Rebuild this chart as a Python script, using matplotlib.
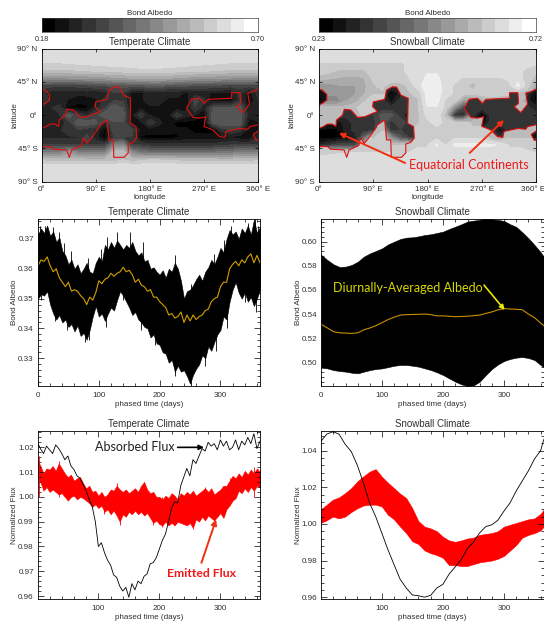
#!/usr/bin/env python3
"""Albedo maps and phase curves for a temperate and a snowball climate."""

import numpy as np
import matplotlib
matplotlib.use("Agg")
import matplotlib.pyplot as plt
from matplotlib.patches import Polygon
from matplotlib.ticker import MultipleLocator
from matplotlib.transforms import ScaledTranslation

W, H = 544, 621
plt.rcParams['font.family'] = ['Liberation Sans', 'DejaVu Sans']
TXT = '#303030'

# ---- maps: grey shade (0-16 steps of the colour bar), lat 90..-90, lon 0..360 every 15 deg
map_lon = list(range(0, 361, 15))
map_lat = list(range(90, -91, -10))

temperate_shades = [
    [13.5] * 25,
    [13.5] * 25,
    [12.5, 12.5, 12.5, 12.6, 12.7, 12.8, 12.9, 13, 13, 13.1, 13.2, 13.3, 13.4, 13.3, 13.2, 13.1, 13, 12.9, 12.8, 12.7, 12.6, 12.5, 12.5, 12.5, 12.5],
    [11.3, 11.3, 11.3, 11.4, 11.5, 11.6, 11.7, 11.8, 11.9, 12, 12.1, 12.2, 12.2, 12.2, 12.1, 12, 11.9, 11.8, 11.7, 11.6, 11.5, 11.4, 11.3, 11.3, 11.3],
    [8.5, 8.5, 8.5, 8.5, 8.6, 8.7, 8.8, 9, 9.2, 9.4, 9.6, 9.8, 9.8, 9.8, 9.6, 9.4, 9.2, 9, 8.9, 8.8, 8.6, 8.5, 8.5, 8.5, 8.5],
    [4, 4, 3.8, 3.8, 4, 4.2, 4.5, 4.5, 5, 5, 5, 5, 5.5, 5.5, 5, 5, 4.8, 4.5, 4.5, 4.5, 4.2, 4, 4, 4, 4],
    [3, 2, 2, 2, 2, 2, 1.8, 2, 3.5, 3.5, 1.2, 1.5, 1.8, 1.8, 1.8, 1.8, 1.5, 1.8, 1.8, 1.5, 1.5, 1.5, 3, 1, 3],
    [3.5, 2.5, 2, 1.5, 0.8, 1, 1.5, 3, 3.5, 3.5, 1, 1.5, 1.8, 1.8, 1.5, 1.5, 0.8, 4, 3, 0.8, 0.8, 0.8, 3, 0.5, 2.5],
    [2.5, 2.5, 3, 0.4, 0.3, 0.3, 2, 3.5, 5.5, 4.5, 1.2, 1.2, 1.5, 1.5, 1.2, 1, 1, 3.5, 2, 4.5, 5, 5, 5, 1.5, 2.5],
    [2.5, 2.5, 2.5, 5.5, 3.5, 2.5, 4, 5.5, 5.5, 5.5, 1.2, 3.5, 1.5, 1.2, 1, 3.5, 2, 1.5, 0.4, 5.5, 5.5, 5.5, 5, 2, 2],
    [2, 1.5, 2, 3, 5.5, 5.5, 5, 2.5, 4.5, 4.5, 1.2, 1.2, 3.5, 2, 0.8, 0.3, 0.3, 0.2, 0.2, 5, 5.5, 5.5, 5.5, 1, 1.5],
    [2.5, 2.5, 2.5, 3, 3.5, 3, 2.5, 0.2, 4.5, 4.5, 4, 1.2, 1, 1, 1, 0.8, 0.8, 0.3, 0.2, 0.2, 3, 3.5, 3, 1, 1.5],
    [2.5, 2.5, 2.5, 2.5, 2.5, 4, 2, 0.2, 3.5, 3.5, 3.5, 0.4, 0.3, 0.3, 0.3, 0.4, 1, 1, 1, 1, 1, 1.5, 1, 1, 2.5],
    [3.5, 3.5, 3.5, 3.5, 3.5, 3.5, 3.5, 3.5, 7.5, 8, 3.5, 3.5, 3, 3, 3, 3, 3, 3, 3, 3, 3.2, 3.5, 3.5, 3.5, 3.5],
    [7.5, 7.5, 7.5, 9, 7.5, 7.5, 7.5, 7.5, 11, 11.5, 8, 7, 6.5, 6.5, 6.5, 6.5, 6.5, 6.5, 6.5, 6.5, 7, 7, 7.5, 7.5, 7.5],
    [11.2, 11, 11, 11, 11, 10.8, 10.8, 10.8, 10.8, 11.5, 11, 11.2, 11.5, 11.5, 11.3, 11.2, 11, 11, 11, 11, 10.8, 10.8, 11, 11, 11.2],
    [13.5] * 25,
    [13.5] * 25,
    [13.5] * 25,
]

# snowball ocean/ice field, the land is filled in from its own field below
snowball_shades = [
    [13.5] * 25,
    [13.2] * 25,
    [12.5, 12.5, 12.5, 12.5, 12.5, 12.5, 12.5, 12.5, 12.5, 12.5, 12.7, 13.2, 13.5, 13.5, 13.5, 13.5, 13.5, 13.5, 13.5, 13.5, 13.5, 13.5, 13.5, 13.2, 12.8],
    [12.3, 12, 11.5, 11.3, 11.3, 11.5, 12, 12.3, 12.5, 12.5, 12.7, 13.3, 13.5, 13.5, 13.5, 13.5, 13.5, 13.5, 13.5, 13.5, 13.5, 13.5, 13, 12.2, 11.8],
    [11, 10.8, 10.5, 10.3, 10.3, 10.6, 11.8, 12.3, 12.5, 12.5, 12.6, 13.2, 13.8, 13.8, 13.2, 12.8, 12.5, 12.5, 12.5, 12.5, 12.5, 12.8, 13, 12.2, 11.2],
    [9, 9, 9.5, 9.6, 9.6, 10.3, 11.5, 11.8, 11, 11, 12, 13.3, 14.2, 14.2, 13, 12.5, 12.3, 10.8, 12.3, 12.3, 12.3, 12.3, 14, 12.2, 10],
    [9, 9, 9, 9.5, 9.5, 10.5, 11.5, 11.5, 11.5, 11.5, 11.5, 12, 14.2, 14.2, 13, 12.5, 12.3, 12.3, 12.3, 12.3, 12, 12, 11.5, 11, 10],
    [7, 8, 8, 9.5, 10, 11.5, 12, 12, 12, 11.5, 11, 11.5, 14, 14, 12.5, 12.3, 9, 9, 10, 11, 11, 11, 11, 10, 9],
    [11, 11, 11, 11, 11.5, 12, 12, 12, 12, 11.5, 11, 11.5, 13.5, 13.5, 12.3, 8, 4, 6, 9, 11, 11, 11, 11, 11, 11],
    [11, 11, 11, 11, 11, 12, 12, 12, 12, 11.5, 11, 11.5, 13, 13.5, 11, 3, 3, 9, 11, 11, 11, 11, 11, 11, 11],
    [11, 11, 11, 11, 11, 11, 11, 11, 11.5, 11.5, 11, 11.5, 12.3, 13, 12.3, 12.3, 12.3, 11, 11, 11, 11, 11, 11, 11, 11],
    [11, 11, 11, 11, 11, 11, 11, 11.5, 11.5, 11.5, 11.5, 12, 12.3, 12.3, 12.3, 12.3, 12.3, 12.3, 12.3, 12, 11.5, 11.5, 11.5, 11.5, 11.5],
    [11.5, 11.5, 11.5, 11.5, 11.5, 11.5, 11.5, 12, 12, 12, 12, 12, 12.3, 12.3, 12.3, 12.3, 12.3, 12.3, 12.3, 11, 10, 11.5, 11.5, 11.5, 11.5],
    [12, 12, 12, 12, 12, 12, 12, 12.3, 12.3, 12.3, 12.3, 12.5, 12.5, 13.8, 12.5, 13.8, 13.8, 13.8, 13.8, 13.8, 13.5, 12.5, 12.5, 12, 12],
    [12, 12, 12.3, 12.5, 12.5, 12.5, 12.5, 12.5, 12.5, 12.5, 12.6, 12.8, 12.8, 12.8, 12.8, 12.8, 12.8, 12.8, 12.8, 12.8, 12.8, 12.8, 12.8, 12.8, 12.5],
    [13.5] * 25,
    [13.5] * 25,
    [13.5] * 25,
    [13.5] * 25,
]

snowball_land = [
    [3] * 25,
    [3] * 25,
    [3] * 25,
    [3] * 25,
    [3] * 25,
    [3] * 25,
    [0.3, 2, 3, 3, 3, 3, 3, 3, 0.3, 2, 3, 3, 3, 3, 3, 3, 3, 3, 3, 3, 3, 3, 3, 3, 0.3],
    [0.3, 1.5, 3, 3, 3, 3, 3, 3, 1, 3, 3, 3, 3, 3, 3, 3, 3, 3, 3, 3, 3, 3, 3, 2, 0.3],
    [2, 3, 3, 3, 3, 3, 3, 3, 3, 3, 3, 3, 3, 3, 3, 3, 3, 3, 3, 3, 3, 3, 3, 3, 2],
    [3, 3, 3, 3, 3, 3, 3.5, 5, 5, 3, 1.5, 3, 3, 3, 3, 3, 3, 3, 0.2, 3, 3, 3, 3, 3, 3],
    [3, 2, 1, 2, 3, 3, 3, 5, 3, 4.5, 3, 3, 3, 3, 3, 3, 3, 3, 0.2, 3, 3, 3, 3, 3, 3],
    [0.5, 0.3, 0.5, 2, 3, 3, 3, 9, 3, 3.5, 2.5, 3, 3, 3, 3, 3, 3, 3, 3, 3, 1, 3, 3, 3, 3],
    [0.3, 0.3, 0.3, 0.5, 2, 6, 11, 11, 8, 5, 3.5, 3, 3, 3, 3, 3, 3, 3, 3, 3, 3, 3, 3, 1, 0.3],
    [2, 3, 4, 4, 4, 10, 11, 12, 11.5, 11.5, 11.5, 12, 12, 12, 12, 12, 12, 12, 12, 12, 12, 12, 12, 12, 12],
    [11, 11, 12, 12, 12, 12, 12, 12, 12.5, 12.5, 12, 12, 12, 12, 12, 12, 12, 12, 12, 12, 12, 12, 12, 12, 12],
    [12] * 25,
    [12] * 25,
    [12] * 25,
    [12] * 25,
]

# ---- continent outlines (lon, lat)
coast_a = [(0, 35.4), (5.5, 34), (13, 28), (13, 20.5), (5.5, 16), (0, 14)]
coast_b = [(0, -18), (8, -15), (14, -12), (22, -12), (28, -15), (29, -6.5), (39, 0), (42, 8), (53, 7), (64, -3),
           (76, -2), (89, 2.5), (97, 5), (89, 11.5), (90, 18), (109, 21.5), (112, 34), (122, 38.5), (129, 38),
           (136, 27), (148, 23), (147, -11), (157, -15.5), (158, -31), (152, -37), (144, -39), (144, -51),
           (137, -57), (120, -57), (119, -33.5), (112, -33.5), (109, -6.5), (97, -13), (94, -18), (80, -33.5),
           (75, -38), (69, -31), (66, -41), (50, -47), (46, -57), (41.5, -47), (19, -46), (14, -42.5), (0, -42.5)]
coast_c = [(360, 35.4), (352, 32), (343, 30), (346, 15), (335, 3.5), (324, 11.5), (331, 16), (330, 30.5),
           (316, 30.5), (316, 23), (277, 21.5), (271, 16), (263, 23), (249, 21.5), (241, 9), (252, -3), (263, -4),
           (273, -2), (270, -15), (285, -20), (296, -29), (305, -30), (307, -22), (330, -18), (343, -19),
           (346, -15.5), (360, -13)]
coast_d = [(360, -21.5), (352, -26), (357, -34), (360, -34)]
coasts = [coast_a, coast_b, coast_c, coast_d]

# ---- phase curves, temperate climate, one value every 5 days
days_5 = list(range(0, 366, 5))
temp_alb_top = [.3715, .3735, .3720, .3745, .3710, .3725, .3690, .3705, .3660, .3645, .3615, .3630, .3600, .3615,
                .3585, .3600, .3620, .3590, .3585, .3620, .3640, .3625, .3680, .3665, .3690, .3670, .3695, .3680,
                .3665, .3680, .3670, .3690, .3660, .3645, .3655, .3625, .3630, .3600, .3605, .3590, .3580, .3595,
                .3570, .3600, .3590, .3620, .3600, .3560, .3500, .3525, .3530, .3545, .3565, .3580, .3560, .3590,
                .3605, .3630, .3615, .3640, .3670, .3655, .3700, .3730, .3715, .3725, .3700, .3735, .3720, .3745,
                .3715, .3765, .3720, .3740]
temp_alb_bot = [.3500, .3515, .3510, .3525, .3480, .3450, .3430, .3445, .3420, .3430, .3405, .3415, .3390, .3410,
                .3375, .3385, .3362, .3395, .3440, .3475, .3440, .3450, .3425, .3450, .3470, .3460, .3495, .3525,
                .3510, .3490, .3470, .3445, .3455, .3430, .3420, .3405, .3400, .3370, .3380, .3350, .3345, .3320,
                .3315, .3285, .3295, .3255, .3275, .3255, .3260, .3240, .3215, .3245, .3265, .3280, .3310, .3300,
                .3340, .3325, .3355, .3380, .3395, .3440, .3430, .3490, .3530, .3555, .3520, .3500, .3520, .3490,
                .3505, .3475, .3500, .3530]
temp_alb_avg = [.3610, .3630, .3625, .3640, .3610, .3590, .3600, .3570, .3555, .3540, .3555, .3525, .3530, .3525,
                .3510, .3500, .3480, .3505, .3495, .3520, .3560, .3550, .3565, .3570, .3585, .3575, .3585, .3590,
                .3605, .3590, .3595, .3580, .3555, .3565, .3545, .3540, .3525, .3530, .3505, .3505, .3490, .3480,
                .3470, .3445, .3450, .3435, .3440, .3455, .3420, .3445, .3425, .3445, .3430, .3440, .3445, .3460,
                .3465, .3490, .3500, .3505, .3540, .3555, .3555, .3600, .3615, .3625, .3610, .3630, .3620, .3640,
                .3650, .3620, .3645, .3620]
temp_absorbed = [1.0220, 1.0195, 1.0175, 1.0205, 1.0190, 1.0175, 1.0210, 1.0195, 1.0175, 1.0150, 1.0165, 1.0125,
                 1.0110, 1.0085, 1.0075, 1.0050, 1.0025, .9990, .9960, .9900, .9800, .9815, .9775, .9745, .9725,
                 .9685, .9675, .9640, .9620, .9635, .9595, .9650, .9625, .9660, .9650, .9680, .9690, .9730, .9735,
                 .9755, .9790, .9825, .9850, .9900, .9955, .9980, .9975, 1.0045, 1.0080, 1.0115, 1.0085, 1.0150,
                 1.0135, 1.0165, 1.0195, 1.0185, 1.0220, 1.0205, 1.0215, 1.0190, 1.0230, 1.0205, 1.0225, 1.0190,
                 1.0200, 1.0230, 1.0190, 1.0225, 1.0210, 1.0240, 1.0215, 1.0255, 1.0195, 1.0225]
temp_emit_top = [1.0150, 1.0125, 1.0095, 1.0115, 1.0110, 1.0125, 1.0105, 1.0135, 1.0115, 1.0095, 1.0080, 1.0090,
                 1.0065, 1.0075, 1.0080, 1.0055, 1.0035, 1.0045, 1.0020, 1.0025, 1.0005, 1.0020, 1.0000, 1.0010,
                 1.0030, 1.0025, 1.0045, 1.0030, 1.0020, 1.0030, 1.0015, 1.0025, 1.0035, 1.0020, 1.0045, 1.0060,
                 1.0030, 1.0015, 1.0020, 1.0000, 1.0000, .9990, 1.0005, .9995, 1.0015, 1.0005, .9990, 1.0015,
                 1.0005, 1.0020, 1.0010, 1.0025, 1.0005, 1.0015, 1.0025, 1.0035, 1.0020, 1.0035, 1.0010, 1.0020,
                 1.0030, 1.0045, 1.0045, 1.0065, 1.0085, 1.0075, 1.0095, 1.0080, 1.0105, 1.0090, 1.0110, 1.0095,
                 1.0115, 1.0100]
temp_emit_bot = [1.0075, 1.0060, 1.0025, 1.0040, 1.0020, 1.0030, 1.0020, 1.0010, 1.0015, 1.0000, .9985, 1.0000,
                 1.0005, .9990, 1.0000, .9995, .9985, .9975, .9960, .9970, .9955, .9965, .9940, .9950, .9930,
                 .9945, .9925, .9900, .9930, .9920, .9940, .9930, .9945, .9930, .9940, .9925, .9935, .9915, .9895,
                 .9905, .9890, .9885, .9900, .9885, .9895, .9885, .9900, .9895, .9890, .9885, .9895, .9875, .9910,
                 .9900, .9920, .9905, .9925, .9915, .9905, .9920, .9935, .9915, .9950, .9965, .9985, .9995, 1.0025,
                 1.0015, 1.0035, 1.0020, 1.0040, 1.0025, 1.0045, 1.0040]

# single sharp spikes sticking out of the temperate bands
alb_up_days = [3, 12, 24, 35, 43, 55, 83, 103, 113, 130, 152, 172, 226, 290, 305, 318, 345, 356, 362]
alb_up_vals = [.3745, .3745, .3740, .3725, .3685, .3660, .3635, .3665, .3705, .3725, .3725, .3690, .3645, .3650,
               .3695, .3745, .3755, .3785, .3745]
alb_dn_days = [5, 28, 47, 78, 84, 112, 140, 170, 192, 225, 252, 275, 292, 310, 340, 358]
alb_dn_vals = [.3495, .3425, .3395, .3355, .3360, .3405, .3495, .3395, .3345, .3240, .3205, .3275, .3325, .3400,
               .3490, .3455]
emit_up_days = [3, 35, 130, 175, 275, 315, 355]
emit_up_vals = [1.0165, 1.0145, 1.0055, 1.0062, 1.0040, 1.0075, 1.0120]
emit_dn_days = [110, 135, 190, 205, 255]
emit_dn_vals = [.9930, .9885, .9885, .9880, .9870]

# ---- phase curves, snowball climate, one value every 10 days
days_10 = list(range(0, 361, 10)) + [365]
snow_alb_top = [.5890, .5848, .5812, .5790, .5793, .5807, .5834, .5876, .5903, .5923, .5945, .5978, .6000, .6022,
                .6033, .6036, .6044, .6055, .6061, .6072, .6083, .6105, .6124, .6144, .6166, .6174, .6180, .6190,
                .6185, .6180, .6171, .6144, .6122, .6077, .6028, .5972, .5912, .5876]
snow_alb_bot = [.4956, .4950, .4936, .4928, .4923, .4914, .4909, .4923, .4936, .4945, .4950, .4961, .4972, .4978,
                .4978, .4972, .4964, .4950, .4936, .4917, .4895, .4867, .4840, .4818, .4804, .4809, .4840, .4895,
                .4945, .4983, .5011, .5028, .5039, .5044, .5036, .5019, .4978, .4959]
snow_alb_avg = [.5315, .5285, .5254, .5245, .5242, .5240, .5245, .5270, .5285, .5305, .5330, .5355, .5375, .5392,
                .5395, .5397, .5398, .5400, .5395, .5385, .5385, .5382, .5378, .5380, .5382, .5387, .5392, .5405,
                .5418, .5435, .5445, .5442, .5440, .5435, .5400, .5370, .5325, .5305]
snow_absorbed = [1.0449, 1.0490, 1.0503, 1.0490, 1.0435, 1.0395, 1.0320, 1.0223, 1.0114, 1.0040, .9950, .9860,
                 .9778, .9698, .9650, .9612, .9608, .9600, .9610, .9650, .9670, .9725, .9765, .9805, .9865, .9900,
                 .9950, .9985, .9995, 1.0020, 1.0070, 1.0115, 1.0180, 1.0235, 1.0290, 1.0355, 1.0400, 1.0460]
snow_emit_top = [1.0078, 1.0105, 1.0132, 1.0145, 1.0168, 1.0195, 1.0232, 1.0260, 1.0285, 1.0299, 1.0258, 1.0225,
                 1.0195, 1.0165, 1.0141, 1.0085, 1.0015, .9985, .9975, .9960, .9930, .9910, .9902, .9910, .9920,
                 .9925, .9940, .9945, .9950, .9960, .9985, .9995, 1.0005, 1.0015, 1.0025, 1.0030, 1.0055, 1.0078]
snow_emit_bot = [1.0005, 1.0020, 1.0040, 1.0030, 1.0040, 1.0065, 1.0085, 1.0100, 1.0105, 1.0105, 1.0095, 1.0050,
                 1.0025, .9985, .9950, .9905, .9890, .9855, .9840, .9830, .9815, .9775, .9775, .9770, .9770,
                 .9780, .9790, .9795, .9800, .9810, .9825, .9855, .9885, .9925, .9940, .9950, .9965, .9985]

lon_ticks = [0, 90, 180, 270, 360]
lon_labels = ['0°', '90° E', '180° E', '270° E', '360° E']
lat_ticks = [90, 45, 0, -45, -90]
lat_labels = ['90° N', '45° N', '0°', '45° S', '90° S']


def add_ax(x0, y0, x1, y1):
    """Axes from pixel corners of the picture."""
    return fig.add_axes([x0 / W, 1 - y1 / H, (x1 - x0) / W, (y1 - y0) / H])


def idl_style(ax):
    ax.tick_params(which='both', direction='in', top=True, right=True, width=0.5, labelsize=5.8,
                   labelcolor=TXT, pad=3)
    ax.tick_params(which='major', length=4)
    ax.tick_params(which='minor', length=2)
    for s in ax.spines.values():
        s.set_linewidth(0.6)


def draw_map(ax, cax, shades, low, high, title, land=None):
    step = (high - low) / 16
    levels = low + np.arange(17) * step
    cmap = plt.get_cmap('gray', 16)
    # a shade k is read as the middle of colour bar step k
    ax.contourf(map_lon, map_lat, low + (np.array(shades) + 0.4) * step, levels=levels, cmap=cmap)
    for coast in coasts:
        pts = np.array(coast)
        if land is not None:
            cs = ax.contourf(map_lon, map_lat, low + (np.array(land) + 0.4) * step, levels=levels, cmap=cmap)
            cs.set_clip_path(Polygon(pts, transform=ax.transData))
        ax.plot(pts[:, 0], pts[:, 1], color='#e01010', lw=0.8)
    ax.set_xlim(0, 360)
    ax.set_ylim(-90, 90)
    ax.set_xticks(lon_ticks, lon_labels)
    ax.set_yticks(lat_ticks, lat_labels)
    idl_style(ax)
    ax.tick_params(which='major', length=2, pad=3)
    ax.set_title(title, fontsize=7, color=TXT, pad=3)
    ax.set_xlabel('longitude', fontsize=5.8, color=TXT, labelpad=1)
    ax.set_ylabel('latitude', fontsize=5.8, color=TXT, labelpad=-1)

    # colour bar
    cax.pcolormesh(levels, [0, 1], (levels[:-1] + step / 2).reshape(1, -1), cmap=cmap, vmin=low, vmax=high)
    cax.set_xticks([])
    cax.set_yticks([])
    for s in cax.spines.values():
        s.set_linewidth(0.5)
        s.set_color('#404040')
    cax.set_title('Bond Albedo', fontsize=5.8, color=TXT, pad=2.5)
    cax.text(0, -0.26, f'{low:.2f}', transform=cax.transAxes, ha='center', va='top', fontsize=5.2, color=TXT)
    cax.text(1, -0.26, f'{high:.2f}', transform=cax.transAxes, ha='center', va='top', fontsize=5.2, color=TXT)


def time_axes(ax, title, ylabel, xlim, ylim, ymajor, yminor, yfmt):
    ax.set_xlim(*xlim)
    ax.set_ylim(*ylim)
    ax.xaxis.set_major_locator(MultipleLocator(100))
    ax.xaxis.set_minor_locator(MultipleLocator(20))
    ax.yaxis.set_major_locator(MultipleLocator(ymajor))
    ax.yaxis.set_minor_locator(MultipleLocator(yminor))
    ax.yaxis.set_major_formatter(yfmt)
    idl_style(ax)
    ax.tick_params(axis='x', pad=4)
    ax.set_title(title, fontsize=7, color=TXT, pad=3)
    ax.set_xlabel('phased time (days)', fontsize=5.8, color=TXT, labelpad=2)
    ax.set_ylabel(ylabel, fontsize=5.8, color=TXT, labelpad=0)


fig = plt.figure(figsize=(W / 100, H / 100), dpi=100)

# top row
ax_map1 = add_ax(41.7, 48.7, 258, 181.7)
ax_map2 = add_ax(319, 48.7, 536, 181.7)
cax1 = add_ax(41.7, 18, 258, 32)
cax2 = add_ax(319, 18, 536, 32)
draw_map(ax_map1, cax1, temperate_shades, 0.18, 0.70, 'Temperate Climate')
draw_map(ax_map2, cax2, snowball_shades, 0.23, 0.72, 'Snowball Climate', land=snowball_land)
# last label of the right map stays inside the picture
ax_map2.get_xticklabels()[-1].set_transform(ax_map2.get_xticklabels()[-1].get_transform()
                                            + ScaledTranslation(-3 / 100, 0, fig.dpi_scale_trans))

ORANGE = '#f03010'
for head, tail in [((33, -24), (143, -64.7)), ((307, -6.5), (250, -51))]:
    ax_map2.annotate('', xy=head, xytext=tail,
                     arrowprops=dict(arrowstyle='-|>', color=ORANGE, lw=1.4, mutation_scale=8, shrinkA=0, shrinkB=0))
ax_map2.text(249, -67, 'Equatorial Continents', color='#f01818', fontsize=9, family='Lato',
             ha='center', va='center')

# middle row
ax_a1 = add_ax(38, 218.7, 260, 386)
ax_a2 = add_ax(321.3, 218.7, 543.7, 386)
ax_a1.fill_between(days_5, temp_alb_bot, temp_alb_top, color='black', lw=0.4)
ax_a1.vlines(alb_up_days, 0.355, alb_up_vals, color='black', lw=0.6)
ax_a1.vlines(alb_dn_days, alb_dn_vals, 0.355, color='black', lw=0.6)
ax_a1.plot(days_5, temp_alb_avg, color='#d29f00', lw=0.8)
time_axes(ax_a1, 'Temperate Climate', 'Bond Albedo', (0, 365), (0.3207, 0.3768), 0.01, 0.002, '{x:.2f}')

ax_a2.fill_between(days_10, snow_alb_bot, snow_alb_top, color='black', lw=0.4)
ax_a2.plot(days_10, snow_alb_avg, color='#c89000', lw=0.8)
time_axes(ax_a2, 'Snowball Climate', 'Bond Albedo', (0, 365), (0.4804, 0.619), 0.02, 0.004, '{x:.2f}')
ax_a2.text(19, 0.5619, 'Diurnally-Averaged Albedo', color='#d8d800', fontsize=9, family='Lato',
           ha='left', va='center')
ax_a2.annotate('', xy=(301, 0.5434), xytext=(267, 0.564),
               arrowprops=dict(arrowstyle='-|>', color='#e8e800', lw=1.2, mutation_scale=7, shrinkA=0, shrinkB=0))

# bottom row
ax_f1 = add_ax(38, 431, 260, 599)
ax_f2 = add_ax(321.3, 431, 543.7, 599)
ax_f1.plot(days_5, temp_absorbed, color='black', lw=0.6)
ax_f1.fill_between(days_5, temp_emit_bot, temp_emit_top, color='red', lw=0.4)
ax_f1.vlines(emit_up_days, 1.0, emit_up_vals, color='red', lw=0.6)
ax_f1.vlines(emit_dn_days, emit_dn_vals, 1.0, color='red', lw=0.6)
time_axes(ax_f1, 'Temperate Climate', 'Normalized Flux', (1, 365), (0.9588, 1.0266), 0.01, 0.002, '{x:.2f}')
ax_f1.text(94.5, 1.02, 'Absorbed Flux', color='#202020', fontsize=9, family='Lato', ha='left', va='center')
ax_f1.annotate('', xy=(273, 1.02), xytext=(230, 1.02),
               arrowprops=dict(arrowstyle='-|>', color='black', lw=1.2, mutation_scale=7, shrinkA=0, shrinkB=0))
ax_f1.text(269, 0.9689, 'Emitted Flux', color='#f01818', fontsize=8.8, family='Lato', fontweight='bold',
           ha='center', va='center')
ax_f1.annotate('', xy=(293, 0.9909), xytext=(269, 0.9734),
               arrowprops=dict(arrowstyle='-|>', color=ORANGE, lw=1.4, mutation_scale=8, shrinkA=0, shrinkB=0))

ax_f2.plot(days_10, snow_absorbed, color='black', lw=0.6)
ax_f2.fill_between(days_10, snow_emit_bot, snow_emit_top, color='red', lw=0.4)
time_axes(ax_f2, 'Snowball Climate', 'Normalized Flux', (1, 365), (0.959, 1.0507), 0.02, 0.004, '{x:.2f}')

fig.savefig('out.png', dpi=100)
